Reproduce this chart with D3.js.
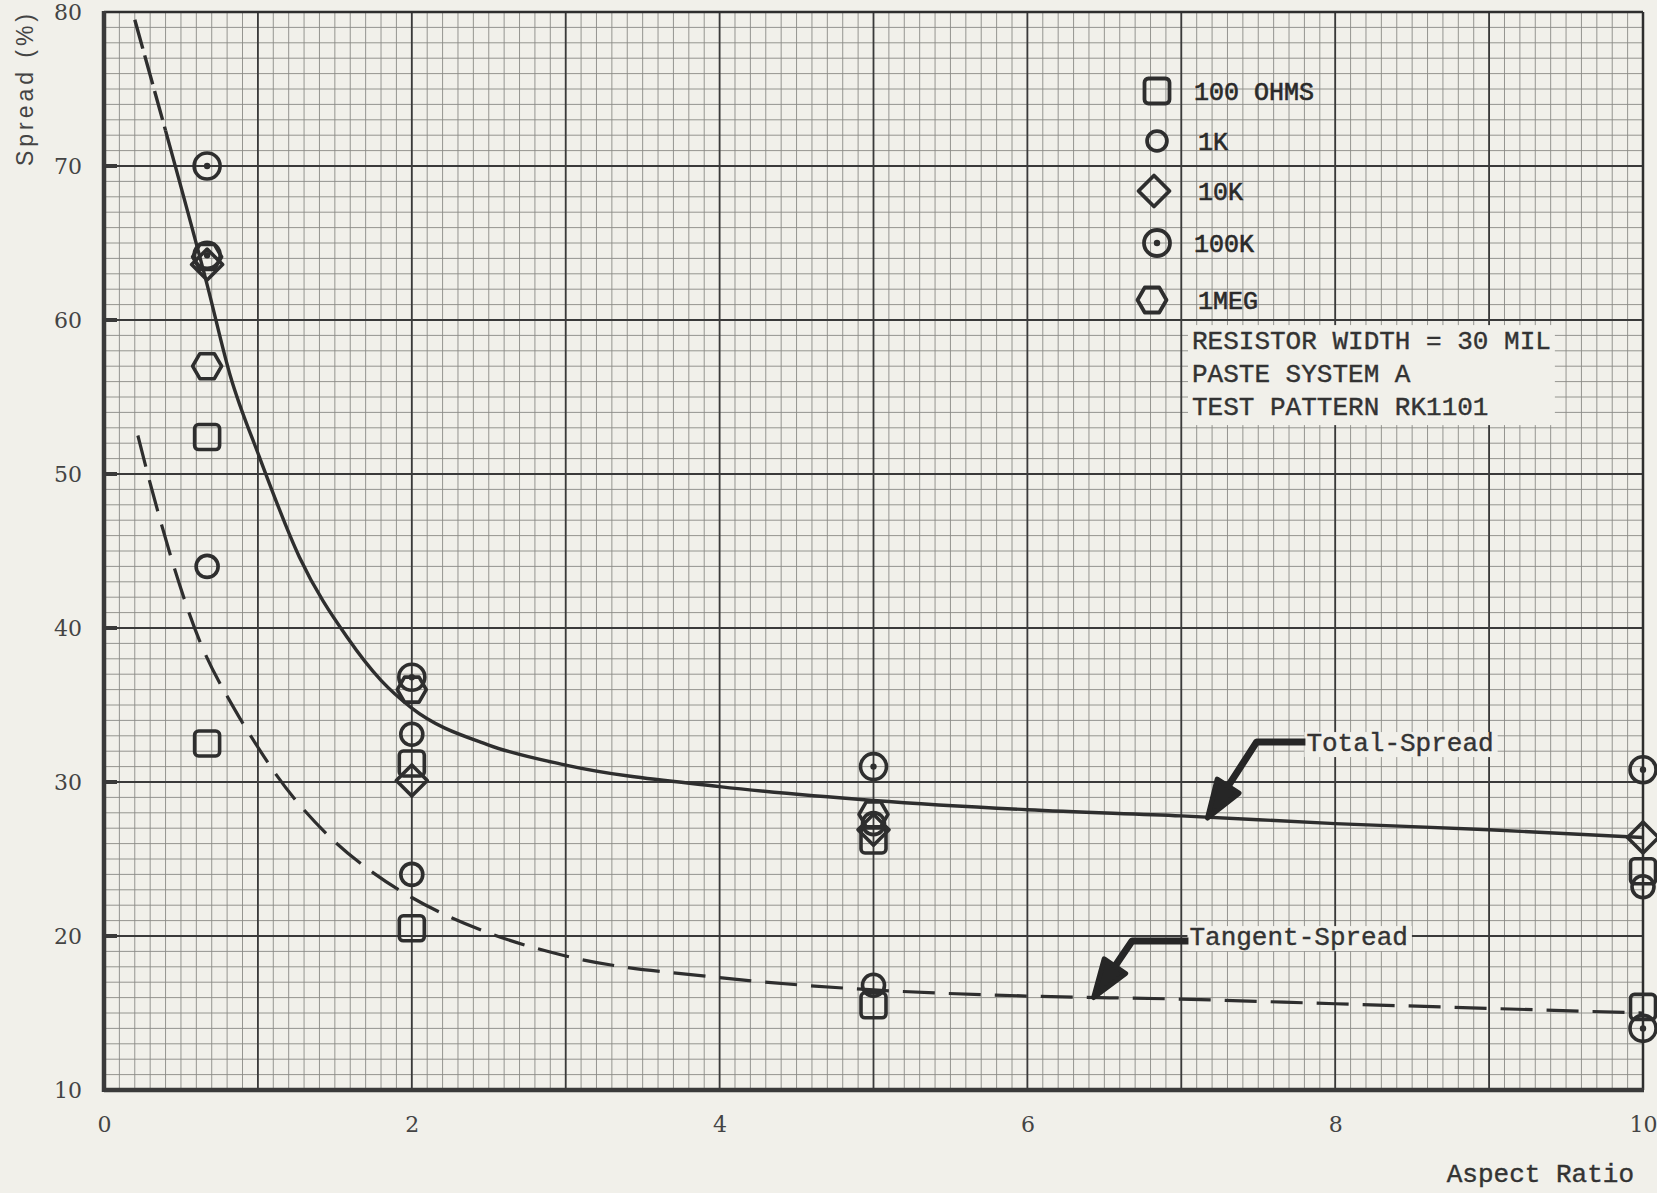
<!DOCTYPE html>
<html>
<head>
<meta charset="utf-8">
<script src="https://cdn.jsdelivr.net/npm/d3@7"></script>
<style>
  html, body { margin: 0; padding: 0; background: #f1f0ea; }
  svg { display: block; }
</style>
</head>
<body>
<div id="chart"></div>
<script>
/* global d3 */

// values
var xTicks = [0, 2, 4, 6, 8, 10];
var yTicks = [10, 20, 30, 40, 50, 60, 70, 80];

var seriesNames = ["100 OHMS", "1K", "10K", "100K", "1MEG"];
var seriesShapes = ["square", "circle", "diamond", "dotCircle", "hexagon"];

var pts100 = [[0.67, 52.4], [0.67, 32.5], [2, 31.2], [2, 20.5], [5, 26.2], [5, 15.5], [10, 24.2], [10, 15.4]];
var pts1K = [[0.67, 44.0], [2, 33.1], [2, 24.0], [5, 27.3], [5, 16.8], [10, 23.2]];
var pts10K = [[0.67, 63.6], [2, 30.1], [5, 26.9], [10, 26.4]];
var pts100K = [[0.67, 70.0], [0.67, 64.2], [2, 36.8], [5, 31.0], [10, 30.8], [10, 14.0]];
var pts1MEG = [[0.67, 64.1], [0.67, 57.0], [2, 36.0], [5, 27.9]];

// curves
var totalExtrap = [[0.20, 79.5], [0.30, 75.9], [0.40, 72.3]];
var totalSpread = [[0.40, 72.3], [0.67, 62.3], [0.82, 56.4], [1.01, 51.1], [1.27, 44.6], [1.58, 39.4],
  [1.8, 36.6], [2.0, 34.8], [2.5, 32.4], [3.0, 31.1], [4.0, 29.7], [5.0, 28.8], [6.0, 28.2],
  [7.0, 27.8], [8.0, 27.3], [9.0, 26.9], [10.0, 26.4]];
var tangentSpread = [[0.22, 52.5], [0.30, 49.4], [0.62, 39.2], [0.85, 34.7], [1.01, 32.1], [1.11, 30.6],
  [1.47, 26.4], [1.75, 24.1], [2.0, 22.5], [2.5, 20.2], [3.0, 18.7], [4.0, 17.3], [5.0, 16.5],
  [6.0, 16.1], [7.0, 15.9], [8.0, 15.6], [9.0, 15.3], [10.0, 15.0]];

var noteLines = ["RESISTOR WIDTH = 30 MIL", "PASTE SYSTEM A", "TEST PATTERN RK1101"];

// callouts (text start, elbow, arrow tip) in chart units
var callouts = [
  { label: "Total-Spread", text: [7.80, 32.6], elbow: [7.49, 32.6], tip: [7.17, 27.66] },
  { label: "Tangent-Spread", text: [7.04, 20.0], elbow: [6.68, 19.68], tip: [6.43, 16.0] }
];

var seriesPts = [pts100, pts1K, pts10K, pts100K, pts1MEG];

var width = 1657, height = 1193,
  plot = { left: 104, right: 1643, top: 12, bottom: 1090 },
  paper = "#f1f0ea",
  ink = "#2e2e2e",
  mono = "'Liberation Mono', 'Courier New', monospace";

var x = d3.scaleLinear().domain([0, 10]).range([plot.left, plot.right]);
var y = d3.scaleLinear().domain([10, 80]).range([plot.bottom, plot.top]);

var svg = d3.select("#chart").append("svg")
  .attr("width", width)
  .attr("height", height)
  .style("background", paper);

// grid
var grid = svg.append("g").attr("class", "grid");
grid.selectAll(".vminor")
  .data(d3.range(0, 101).map(function (i) { return i / 10; }))
  .enter().append("line")
    .attr("x1", function (d) { return x(d); })
    .attr("x2", function (d) { return x(d); })
    .attr("y1", plot.top).attr("y2", plot.bottom)
    .attr("stroke", "#8a8a86").attr("stroke-width", 0.9);
grid.selectAll(".hminor")
  .data(d3.range(10, 81))
  .enter().append("line")
    .attr("y1", function (d) { return y(d); })
    .attr("y2", function (d) { return y(d); })
    .attr("x1", plot.left).attr("x2", plot.right)
    .attr("stroke", "#8a8a86").attr("stroke-width", 0.9);
grid.selectAll(".vmajor")
  .data(d3.range(0, 11))
  .enter().append("line")
    .attr("x1", function (d) { return x(d); })
    .attr("x2", function (d) { return x(d); })
    .attr("y1", plot.top).attr("y2", plot.bottom)
    .attr("stroke", "#3a3a3a").attr("stroke-width", 1.8);
grid.selectAll(".hmajor")
  .data(yTicks)
  .enter().append("line")
    .attr("y1", function (d) { return y(d); })
    .attr("y2", function (d) { return y(d); })
    .attr("x1", plot.left).attr("x2", plot.right)
    .attr("stroke", "#3a3a3a").attr("stroke-width", 1.8);

// frame
svg.append("line").attr("x1", plot.left).attr("x2", plot.right).attr("y1", plot.top).attr("y2", plot.top)
  .attr("stroke", ink).attr("stroke-width", 2.5);
svg.append("line").attr("x1", plot.right).attr("x2", plot.right).attr("y1", plot.top).attr("y2", plot.bottom)
  .attr("stroke", ink).attr("stroke-width", 2.5);
svg.append("line").attr("x1", plot.left).attr("x2", plot.left).attr("y1", plot.top - 1).attr("y2", plot.bottom + 2)
  .attr("stroke", "#3a3a3a").attr("stroke-width", 4.5);
svg.append("line").attr("x1", plot.left).attr("x2", plot.right + 1).attr("y1", plot.bottom).attr("y2", plot.bottom)
  .attr("stroke", "#3a3a3a").attr("stroke-width", 4.5);

// small inward ticks on the left edge
svg.selectAll(".ytick")
  .data(yTicks.slice(1, -1))
  .enter().append("line")
    .attr("x1", plot.left).attr("x2", plot.left + 13)
    .attr("y1", function (d) { return y(d); })
    .attr("y2", function (d) { return y(d); })
    .attr("stroke", "#3a3a3a").attr("stroke-width", 4);

// axes (labels only)
var xAxis = svg.append("g")
  .attr("transform", "translate(0," + plot.bottom + ")")
  .call(d3.axisBottom(x).tickValues(xTicks).tickSize(0).tickPadding(26).tickFormat(d3.format("d")));
var yAxis = svg.append("g")
  .attr("transform", "translate(" + plot.left + ",0)")
  .call(d3.axisLeft(y).tickValues(yTicks).tickSize(0).tickPadding(22).tickFormat(d3.format("d")));
[xAxis, yAxis].forEach(function (a) {
  a.select(".domain").remove();
  a.selectAll("text")
    .style("font-family", "'DejaVu Serif', serif")
    .style("font-size", "22px")
    .attr("fill", "#444");
});

svg.append("text")
  .attr("transform", "translate(25,90) rotate(-90)")
  .attr("text-anchor", "middle")
  .attr("dy", "0.35em")
  .attr("textLength", 152)
  .attr("lengthAdjust", "spacing")
  .style("font-family", "'Liberation Sans', Arial, sans-serif")
  .style("font-size", "23px")
  .attr("fill", "#444")
  .text("Spread (%)");

svg.append("text")
  .attr("x", 1634).attr("y", 1173)
  .attr("text-anchor", "end")
  .attr("dy", "0.35em")
  .style("font-family", mono)
  .style("font-size", "26px")
  .attr("fill", "#333")
  .attr("stroke", "#333").attr("stroke-width", 0.4)
  .text("Aspect Ratio");

// curves
var line = d3.line()
  .x(function (d) { return x(d[0]); })
  .y(function (d) { return y(d[1]); })
  .curve(d3.curveMonotoneX);

svg.append("path").datum(tangentSpread)
  .attr("d", line).attr("fill", "none")
  .attr("stroke", ink).attr("stroke-width", 3.2)
  .attr("stroke-dasharray", "32,14");
svg.append("path").datum(totalExtrap)
  .attr("d", line).attr("fill", "none")
  .attr("stroke", ink).attr("stroke-width", 3.4)
  .attr("stroke-dasharray", "30,7");
svg.append("path").datum(totalSpread)
  .attr("d", line).attr("fill", "none")
  .attr("stroke", ink).attr("stroke-width", 3.4);

// marker shapes
function drawShape(g, shape, big) {
  var s = big || 1;
  if (shape === "square") {
    g.append("rect").attr("x", -12.5 * s).attr("y", -12.5 * s)
      .attr("width", 25 * s).attr("height", 25 * s).attr("rx", 4);
  } else if (shape === "circle") {
    g.append("circle").attr("r", 11 * s);
  } else if (shape === "diamond") {
    g.append("path").attr("d", "M0," + (-15.5 * s) + "L" + (15.5 * s) + ",0L0," + (15.5 * s) + "L" + (-15.5 * s) + ",0Z")
      .attr("stroke-linejoin", "round");
  } else if (shape === "dotCircle") {
    g.append("circle").attr("r", 13 * s);
    g.append("circle").attr("r", 3.2).attr("fill", ink).attr("stroke", "none");
  } else if (shape === "hexagon") {
    var w = 14.5 * s, h = 12.5 * s;
    g.append("path").attr("d", "M" + (-w) + ",0L" + (-w / 2) + "," + (-h) + "L" + (w / 2) + "," + (-h) +
      "L" + w + ",0L" + (w / 2) + "," + h + "L" + (-w / 2) + "," + h + "Z")
      .attr("stroke-linejoin", "round");
  }
}

var marks = svg.append("g").attr("class", "marks")
  .attr("fill", "none").attr("stroke", ink).attr("stroke-width", 3.6);
seriesPts.forEach(function (pts, i) {
  marks.selectAll(".m" + i)
    .data(pts)
    .enter().append("g")
      .attr("class", "m" + i)
      .attr("transform", function (d) { return "translate(" + x(d[0]) + "," + y(d[1]) + ")"; })
      .each(function () { drawShape(d3.select(this), seriesShapes[i]); });
});

// legend
var legendY = [91, 141, 191, 243, 300];
var legendSymX = [1157, 1157, 1154, 1157, 1152];
var legend = svg.append("g").attr("class", "legend");
seriesNames.forEach(function (name, i) {
  var g = legend.append("g")
    .attr("transform", "translate(" + legendSymX[i] + "," + legendY[i] + ")")
    .attr("fill", "none").attr("stroke", ink).attr("stroke-width", 3.8);
  drawShape(g, seriesShapes[i], i === 1 ? 0.9 : 1);
  legend.append("text")
    .attr("x", i === 0 || i === 3 ? 1194 : 1198)
    .attr("y", legendY[i])
    .attr("dy", "0.35em")
    .style("font-family", mono)
    .style("font-size", "25px")
    .attr("fill", "#2a2a2a")
    .attr("stroke", "#2a2a2a").attr("stroke-width", 0.6)
    .text(name);
});

// notes block
var notes = svg.append("g").attr("class", "notes");
var noteBg = notes.append("rect").attr("fill", paper);
notes.selectAll("text")
  .data(noteLines)
  .enter().append("text")
    .attr("x", 1192)
    .attr("y", function (d, i) { return 340 + i * 33; })
    .attr("dy", "0.35em")
    .style("font-family", mono)
    .style("font-size", "26px")
    .attr("fill", "#333")
    .attr("stroke", "#333").attr("stroke-width", 0.4)
    .text(function (d) { return d; });
var nb = notes.node().getBBox();
noteBg.attr("x", nb.x - 4).attr("y", nb.y - 2).attr("width", nb.width + 8).attr("height", nb.height + 4);

// callouts
callouts.forEach(function (c) {
  var g = svg.append("g").attr("class", "callout");
  var tx = x(c.text[0]), ty = y(c.text[1]);
  var bg = g.append("rect").attr("fill", paper);
  var t = g.append("text")
    .attr("x", tx + 2).attr("y", ty)
    .attr("dy", "0.35em")
    .style("font-family", mono)
    .style("font-size", "26px")
    .attr("fill", "#333")
    .attr("stroke", "#333").attr("stroke-width", 0.4)
    .text(c.label);
  var bb = t.node().getBBox();
  bg.attr("x", bb.x - 2).attr("y", bb.y + 3).attr("width", bb.width + 6).attr("height", bb.height - 5);

  var ex = x(c.elbow[0]), ey = y(c.elbow[1]);
  var px = x(c.tip[0]), py = y(c.tip[1]);
  var dx = px - ex, dy = py - ey, len = Math.sqrt(dx * dx + dy * dy);
  var ux = dx / len, uy = dy / len;
  var headLen = 38, half = 13;
  var bx = px - ux * headLen, by = py - uy * headLen;

  g.append("path")
    .attr("d", "M" + (tx + 1) + "," + ey + "L" + ex + "," + ey + "L" + bx + "," + by)
    .attr("fill", "none").attr("stroke", "#262626").attr("stroke-width", 7)
    .attr("stroke-linejoin", "round");
  g.append("path")
    .attr("d", "M" + px + "," + py +
      "L" + (bx - uy * half) + "," + (by + ux * half) +
      "L" + (bx + uy * half) + "," + (by - ux * half) + "Z")
    .attr("fill", "#262626").attr("stroke", "#262626").attr("stroke-width", 5)
    .attr("stroke-linejoin", "round");
});
</script>
</body>
</html>
